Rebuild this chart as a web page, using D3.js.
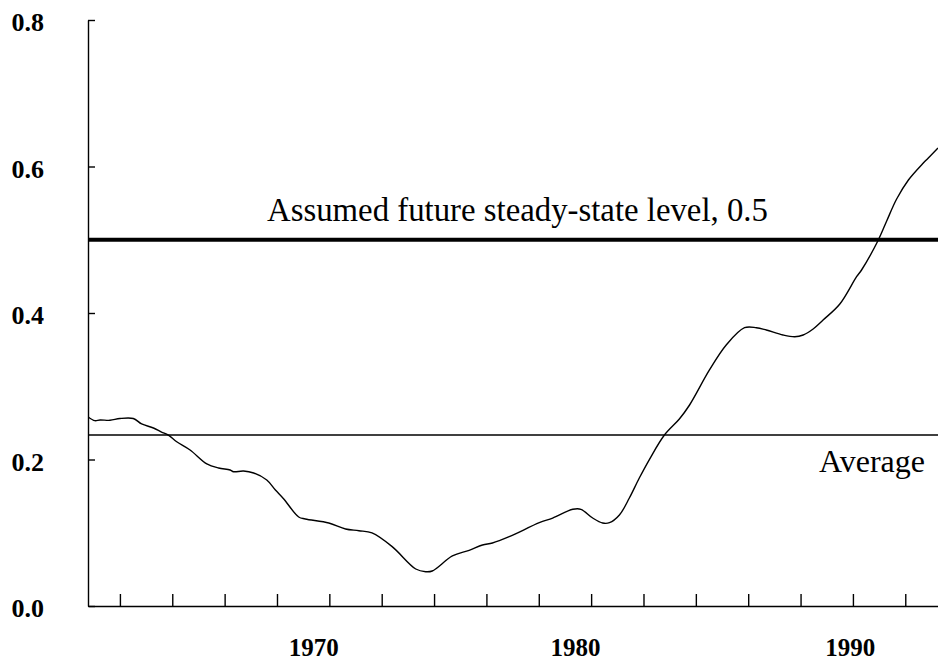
<!DOCTYPE html>
<html>
<head>
<meta charset="utf-8">
<script src="https://cdn.jsdelivr.net/npm/d3@7"></script>
<style>
  body { margin: 0; background: #fff; }
  svg { display: block; }
</style>
</head>
<body>
<div id="chart"></div>
<script>
//          Chart data
var years = [1961.79, 1962.04, 1962.24, 1962.62, 1963.00, 1963.51, 1963.83, 1964.28, 1964.59, 1964.85,
             1965.17, 1965.68, 1966.32, 1966.77, 1967.21, 1967.34, 1967.72, 1968.11, 1968.61, 1968.94,
             1969.25, 1969.83, 1970.08, 1970.98, 1971.62, 1972.13, 1972.63, 1973.40, 1974.30, 1974.68,
             1974.93, 1975.70, 1976.34, 1976.85, 1977.23, 1977.87, 1979.02, 1979.53, 1980.30, 1980.61,
             1981.06, 1981.44, 1981.70, 1982.08, 1982.46, 1982.84, 1983.23, 1983.80, 1984.37, 1984.76,
             1985.52, 1986.16, 1986.86, 1987.31, 1987.69, 1988.33, 1988.78, 1989.10, 1989.48, 1989.86,
             1990.50, 1991.14, 1991.33, 1991.97, 1992.29, 1992.67, 1993.12, 1993.69, 1993.88, 1994.25];
var values = [0.258, 0.253, 0.254, 0.2535, 0.256, 0.256, 0.2485, 0.243, 0.2375, 0.2334,
              0.2243, 0.213, 0.194, 0.1884, 0.1857, 0.1833, 0.1843, 0.1816, 0.172, 0.1584,
              0.1465, 0.1215, 0.1188, 0.1133, 0.1051, 0.1028, 0.0997, 0.081, 0.0505, 0.0468,
              0.0478, 0.0683, 0.076, 0.0833, 0.086, 0.0946, 0.1137, 0.1201, 0.132, 0.132,
              0.1201, 0.1133, 0.1137, 0.1242, 0.1474, 0.1747, 0.2003, 0.2334, 0.2553, 0.2744,
              0.3222, 0.3563, 0.3799, 0.3799, 0.3768, 0.37, 0.3676, 0.37, 0.3782, 0.3904,
              0.4123, 0.4496, 0.4587, 0.4997, 0.5256, 0.5556, 0.5816, 0.6048, 0.6116, 0.6253];

var averageLevel = 0.2334;
var steadyLevel = 0.5;

var yTicks = [0, 0.2, 0.4, 0.6, 0.8];
var xTicks = [1963, 1965, 1967, 1969, 1971, 1973, 1975, 1977, 1979, 1981, 1983, 1985, 1987, 1989, 1991, 1993];
var xLabels = ["1970", "1980", "1990"];
var xLabelAt = [1970.4, 1980.4, 1990.9];

var steadyText = "Assumed future steady-state level, 0.5";
var averageText = "Average";

//          Chart settings
var W = 938, H = 662;
var plotLeft = 88, plotRight = 938, plotTop = 20, plotBottom = 606;

var svg = d3.select("#chart").append("svg")
    .attr("width", W)
    .attr("height", H);

var x = d3.scaleLinear().domain([1961.8, 1994.25]).range([plotLeft + 0.5, plotRight]);
var y = d3.scaleLinear().domain([0, 0.8]).range([plotBottom, plotTop]);

//          Axes
var yAxis = svg.append("g")
    .attr("transform", "translate(" + plotLeft + ",0)")
    .call(d3.axisLeft(y).tickValues(yTicks).tickSizeInner(-7).tickSizeOuter(0).tickPadding(44)
        .tickFormat(d3.format(".1f")));

var xAxis = svg.append("g")
    .attr("transform", "translate(0," + plotBottom + ")")
    .call(d3.axisBottom(x).tickValues(xTicks).tickSizeInner(-12).tickSizeOuter(0).tickFormat(""));

svg.selectAll(".domain, .tick line")
    .attr("stroke", "#000")
    .attr("stroke-width", 1.4);

yAxis.selectAll("text")
    .attr("dy", "0.42em")
    .style("font-family", "'Liberation Serif', serif")
    .style("font-weight", "bold")
    .style("font-size", "26px")
    .attr("fill", "#000");

//          X labels
svg.selectAll("text.xlabel").data(xLabels).enter().append("text")
    .attr("class", "xlabel")
    .attr("x", function(d, i) { return x(xLabelAt[i]); })
    .attr("y", 656)
    .attr("text-anchor", "middle")
    .style("font-family", "'Liberation Serif', serif")
    .style("font-weight", "bold")
    .style("font-size", "25px")
    .text(function(d) { return d; });

//          Reference lines
svg.append("line")
    .attr("x1", plotLeft).attr("x2", plotRight)
    .attr("y1", y(averageLevel)).attr("y2", y(averageLevel))
    .attr("stroke", "#000")
    .attr("stroke-width", 1.4);

svg.append("line")
    .attr("x1", plotLeft).attr("x2", plotRight)
    .attr("y1", y(steadyLevel)).attr("y2", y(steadyLevel))
    .attr("stroke", "#000")
    .attr("stroke-width", 4);

//          Series
var line = d3.line()
    .x(function(d) { return x(d[0]); })
    .y(function(d) { return y(d[1]); })
    .curve(d3.curveCatmullRom);

svg.append("path")
    .datum(d3.zip(years, values))
    .attr("d", line)
    .attr("fill", "none")
    .attr("stroke", "#000")
    .attr("stroke-width", 1.4);

//          Annotations
svg.append("text")
    .attr("x", 267)
    .attr("y", y(steadyLevel) - 19)
    .style("font-family", "'Liberation Serif', serif")
    .style("font-size", "32.8px")
    .text(steadyText);

svg.append("text")
    .attr("x", 925)
    .attr("y", 472)
    .attr("text-anchor", "end")
    .style("font-family", "'Liberation Serif', serif")
    .style("font-size", "32px")
    .text(averageText);
</script>
</body>
</html>
